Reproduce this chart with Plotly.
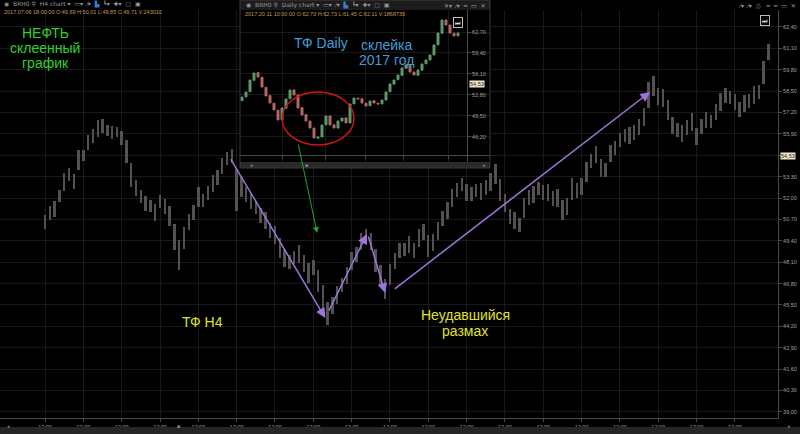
import plotly.graph_objects as go

W, H = 800, 434

# --- H4 chart (main), one bar per index, price mid and bar height ---
h4_mid = [50.54, 51.09, 51.32, 52.12, 52.98, 53.44, 53.02, 54.31, 54.60, 55.39,
          55.77, 56.24, 56.38, 56.10, 55.96, 56.03, 55.65, 54.80, 53.40, 52.61,
          52.10, 51.66, 51.52, 51.13, 51.80, 51.48, 50.91, 49.63, 48.54, 49.57,
          50.54, 51.13, 52.06, 51.86, 52.31, 52.89, 53.24, 53.95, 54.41, 54.56,
          52.49, 52.67, 52.21, 51.82, 51.43, 50.93, 50.64, 50.02, 49.73, 48.97,
          48.32, 48.11, 48.37, 48.58, 48.01, 47.46, 47.78, 46.96, 45.92, 45.01,
          45.46, 46.08, 46.71, 47.28, 48.15, 48.56, 49.37, 49.69, 49.35, 48.23,
          47.26, 46.47, 47.36, 48.17, 48.82, 48.86, 49.18, 48.80, 49.55, 49.94,
          49.08, 49.31, 50.00, 50.77, 51.23, 51.98, 52.49, 52.83, 52.33, 52.25,
          52.47, 52.39, 52.65, 52.98, 53.46, 52.49, 51.68, 50.87, 50.64, 50.36,
          51.40, 52.04, 52.21, 52.59, 52.33, 52.35, 51.96, 51.98, 51.27, 51.48,
          52.55, 52.45, 52.71, 53.58, 54.25, 54.66, 53.85, 53.71, 54.72, 55.04,
          55.53, 55.81, 55.79, 55.99, 56.32, 56.93, 58.27, 58.81, 58.17, 58.06,
          57.35, 56.40, 56.14, 55.92, 56.30, 56.62, 55.73, 56.36, 56.75, 56.65,
          57.23, 57.84, 58.24, 58.10, 57.84, 57.38, 57.76, 57.90, 58.27, 58.45,
          59.66, 60.88]
h4_span = [0.9, 0.8, 1.0, 0.7, 1.1, 0.8, 0.9, 1.2, 0.7, 0.9,
           0.8, 1.0, 0.9, 0.7, 0.8, 0.6, 0.9, 1.4, 1.5, 1.0,
           0.8, 0.9, 0.7, 1.0, 0.8, 0.9, 1.2, 1.6, 1.8, 1.3,
           1.0, 0.9, 1.2, 0.8, 0.9, 1.0, 0.9, 1.0, 0.8, 0.9,
           2.6, 1.2, 0.9, 1.0, 0.8, 0.9, 1.0, 0.9, 1.1, 1.2,
           1.0, 0.9, 0.8, 1.1, 1.0, 1.2, 0.9, 1.3, 1.6, 1.4,
           1.0, 1.1, 0.9, 1.0, 1.1, 0.9, 1.0, 0.8, 1.0, 1.4,
           1.3, 1.2, 1.3, 1.0, 0.9, 0.8, 1.0, 0.9, 1.1, 1.0,
           1.3, 1.0, 1.1, 0.9, 1.0, 1.1, 0.9, 0.8, 1.0, 0.9,
           0.8, 1.0, 0.9, 1.1, 1.2, 1.3, 1.1, 0.9, 1.0, 0.8,
           1.2, 0.9, 1.0, 0.8, 0.9, 1.0, 0.9, 1.1, 1.2, 1.0,
           1.3, 0.9, 1.0, 1.2, 0.9, 1.0, 1.1, 0.9, 1.0, 0.8,
           0.9, 0.8, 1.0, 0.9, 1.0, 1.1, 1.6, 1.2, 1.0, 1.1,
           1.2, 1.0, 0.9, 1.0, 0.9, 1.1, 1.0, 0.9, 1.0, 0.8,
           1.0, 1.1, 0.9, 0.8, 1.0, 0.9, 1.0, 0.9, 1.1, 0.9,
           1.4, 1.0]
h4_time_ticks = [0, 8, 16, 24, 32, 40, 48, 56, 64, 72, 80, 88, 96, 104, 112, 120, 128, 136, 144]
h4_time_labels = ["12:00"] * len(h4_time_ticks)
h4_price_ticks = [39.0, 40.3, 41.6, 42.9, 44.2, 45.5, 46.8, 48.1, 49.4, 50.7,
                  52.0, 53.3, 54.6, 55.9, 57.2, 58.5, 59.8, 61.1, 62.4]
h4_last_price = 54.53

# swing arrows drawn on the H4 chart: (from index, from price) -> (to index, to price)
swing_from_i = [38.6, 59.1, 67.4, 72.7]
swing_from_p = [54.44, 45.07, 49.75, 46.41]
swing_to_i = [58.5, 67.2, 71.0, 126.3]
swing_to_p = [44.71, 49.81, 46.23, 58.45]

# --- Daily chart (inset) ---
d_open = [51.9, 52.5, 53.3, 55.1, 56.3, 55.6, 54.0, 52.7, 51.5, 50.4,
          48.9, 50.7, 52.2, 53.6, 52.8, 50.8, 49.7, 48.7, 47.6, 46.0,
          46.2, 48.1, 49.5, 48.1, 47.6, 48.7, 49.2, 48.4, 51.4, 52.3,
          52.2, 51.5, 51.1, 51.9, 51.5, 51.4, 52.0, 53.3, 54.5, 55.2,
          55.9, 57.0, 57.5, 56.4, 55.9, 56.7, 57.7, 58.3, 59.1, 60.7,
          62.5, 64.6, 63.8, 62.5, 62.1]
d_close = [52.48, 53.27, 55.15, 56.25, 55.63, 54.05, 52.64, 51.54, 50.44, 48.87,
           50.75, 52.17, 53.58, 52.80, 50.75, 49.65, 48.71, 47.61, 46.04, 46.19,
           48.08, 49.50, 48.08, 47.61, 48.71, 49.18, 48.39, 51.38, 52.32, 52.17,
           51.54, 51.07, 51.85, 51.54, 51.38, 52.01, 53.27, 54.53, 55.15, 55.94,
           57.04, 57.51, 56.41, 55.94, 56.73, 57.67, 58.30, 59.08, 60.66, 62.54,
           64.59, 63.80, 62.54, 62.07, 62.54]
d_date_ticks = [10, 20.75, 30.75, 40.25, 51.5]
d_date_labels = ["15 май", "29 июн", "14 авг", "27 сен", "13 ноя"]
d_price_ticks = [46.2, 49.5, 52.8, 56.1, 59.4, 62.7]
d_last_price = 54.53


def px(x):
    return x / W


def py(y):
    return 1 - y / H


def fmt(v):
    return f"{v:.2f}".replace(".", ",")


GRID = "#191919"
AXIS = "#4a4a4a"
TICKFONT = dict(family="Liberation Sans", size=5.5, color="#a0a0a0")

fig = go.Figure()

# H4 bars: thin grey bars from low to high
fig.add_trace(go.Bar(
    x=list(range(len(h4_mid))),
    y=h4_span,
    base=[m - s / 2 for m, s in zip(h4_mid, h4_span)],
    width=0.5,
    marker=dict(color="#525252", line=dict(width=0)),
    hoverinfo="skip",
))

# Daily candles in the inset
fig.add_trace(go.Candlestick(
    x=list(range(len(d_open))),
    open=d_open,
    close=d_close,
    high=[max(o, c) for o, c in zip(d_open, d_close)],
    low=[min(o, c) for o, c in zip(d_open, d_close)],
    xaxis="x2",
    yaxis="y2",
    whiskerwidth=0,
    increasing=dict(line=dict(color="#5f9a6a", width=1), fillcolor="#5f9a6a"),
    decreasing=dict(line=dict(color="#b46868", width=1), fillcolor="#b46868"),
    hoverinfo="skip",
))

annotations = []

# swing arrows
for fi, fp, ti, tp in zip(swing_from_i, swing_from_p, swing_to_i, swing_to_p):
    annotations.append(dict(
        x=ti, y=tp, ax=fi, ay=fp, xref="x", yref="y", axref="x", ayref="y",
        showarrow=True, arrowhead=2, arrowsize=1.3, arrowwidth=1.5,
        arrowcolor="#9d74d9", text="",
    ))

# green pointer from the daily circle down to the H4 low
annotations.append(dict(
    x=56.8, y=49.88, ax=52.8, ay=55.35, xref="x", yref="y", axref="x", ayref="y",
    showarrow=True, arrowhead=2, arrowsize=1.2, arrowwidth=1,
    arrowcolor="#25a525", text="",
))

big = dict(family="Liberation Sans", size=14)
labels = [
    ("НЕФТЬ", 45, 33, "#2ed12e"),
    ("склеенный", 45, 48, "#2ed12e"),
    ("график", 45, 63, "#2ed12e"),
    ("ТФ H4", 203, 322, "#e2e22a"),
    ("Неудавшийся", 465, 315, "#e2e22a"),
    ("размах", 465, 331, "#e2e22a"),
    ("ТФ Daily", 321, 43, "#3d9ed6"),
    ("склейка", 386, 45, "#3d9ed6"),
    ("2017 год", 386, 60, "#3d9ed6"),
]
for t, x, y, c in labels:
    annotations.append(dict(
        x=px(x), y=py(y), xref="paper", yref="paper", text=t, showarrow=False,
        font=dict(color=c, **big), xanchor="center", yanchor="middle",
    ))

small = dict(family="Liberation Sans", size=5.5)
# info lines
annotations.append(dict(
    x=px(2), y=py(12), xref="paper", yref="paper", showarrow=False,
    text="2017.07.06 18:00:00 O:49,69 H:50,01 L:49,85 C:49,71 V:243010",
    font=dict(color="#c39a52", **small), xanchor="left", yanchor="middle",
))
annotations.append(dict(
    x=px(243), y=py(14), xref="paper", yref="paper", showarrow=False,
    text="2017.20.11 10:00:00 O:62,73 H:62,73 L:61,45 C:62,11 V:1868739",
    font=dict(color="#c39a52", **small), xanchor="left", yanchor="middle",
))

# toolbars
tool = dict(family="DejaVu Sans", size=6, color="#9a9a9a")
annotations.append(dict(
    x=px(2), y=py(4), xref="paper", yref="paper", showarrow=False,
    text="◉  BRH0 ⚲  H4 chart ▾  ▭▾  ⁄▾  <span style='color:#3c7ad0'>▙</span>  ┗▾  ✚▾  ▢  ▣",
    font=tool, xanchor="left", yanchor="middle",
))
annotations.append(dict(
    x=px(244), y=py(5), xref="paper", yref="paper", showarrow=False,
    text="◉  BRH0 ⚲  Daily chart ▾  ▭▾  ⁄▾  <span style='color:#3c7ad0'>▙</span>  ┗▾  ✚▾  ▢  ▣",
    font=tool, xanchor="left", yanchor="middle",
))
annotations.append(dict(
    x=px(488), y=py(5), xref="paper", yref="paper", showarrow=False,
    text="✕▾  ⁄▾  ━  ▭  ✕",
    font=tool, xanchor="right", yanchor="middle",
))
annotations.append(dict(
    x=px(798), y=py(5), xref="paper", yref="paper", showarrow=False,
    text="⁄▾  ⁄▾  ⎙   ━  ━  ▭  ✕",
    font=tool, xanchor="right", yanchor="middle",
))

# "end of chart" buttons
for bx, by in [(770, 15), (458, 17)]:
    annotations.append(dict(
        x=px(bx), y=py(by), xref="paper", yref="paper", showarrow=False,
        text="<b>⏭</b>", font=dict(family="DejaVu Sans", size=6, color="#dddddd"),
        bordercolor="#bbbbbb", borderwidth=1, borderpad=1, bgcolor="#000000",
    ))

# last price markers
annotations.append(dict(
    x=px(780), y=h4_last_price, xref="paper", yref="y", showarrow=False,
    text=fmt(h4_last_price), font=dict(color="#202020", **small),
    bgcolor="#efe6cc", borderpad=0, xanchor="left", yanchor="middle",
))
annotations.append(dict(
    x=px(469), y=d_last_price, xref="paper", yref="y2", showarrow=False,
    text=fmt(d_last_price), font=dict(color="#202020", **small),
    bgcolor="#efe6cc", borderpad=0, xanchor="left", yanchor="middle",
))

# scrollbar arrows
for t, x, y in [("◂", 5, 431), ("▪", 175, 431), ("▸", 793, 431), ("◂", 248, 165), ("▪", 306, 165), ("▸", 484, 165)]:
    annotations.append(dict(
        x=px(x), y=py(y), xref="paper", yref="paper", showarrow=False, text=t,
        font=dict(family="DejaVu Sans", size=5, color="#8a8a8a"),
    ))

shapes = [
    # main scrollbar
    dict(type="rect", xref="paper", yref="paper", x0=0, x1=1, y0=py(434), y1=py(427),
         fillcolor="#262626", line=dict(width=0), layer="above"),
    # inset toolbar
    dict(type="rect", xref="paper", yref="paper", x0=px(240), x1=px(490), y0=py(10), y1=py(0),
         fillcolor="#1c1c1c", line=dict(width=0), layer="above"),
    # inset scrollbar
    dict(type="rect", xref="paper", yref="paper", x0=px(240), x1=px(490), y0=py(168), y1=py(162),
         fillcolor="#2a2a2a", line=dict(width=0), layer="above"),
    # inset frame
    dict(type="rect", xref="paper", yref="paper", x0=px(240), x1=px(490), y0=py(168), y1=py(0),
         fillcolor="rgba(0,0,0,0)", line=dict(color="#3a3a3a", width=1), layer="above"),
    # red circle on the daily chart
    dict(type="circle", xref="x2", yref="y2", x0=10, x1=28, y0=44.94, y1=53.27,
         line=dict(color="#d41414", width=1.5), layer="above"),
]

axis_common = dict(
    showgrid=True, gridcolor=GRID, gridwidth=1, zeroline=False,
    showline=True, linecolor=AXIS, linewidth=1,
    ticks="outside", ticklen=3, tickcolor=AXIS,
    tickfont=TICKFONT, automargin=False, fixedrange=True,
)

# the last-price marker sits on top of the 54,60 level, so leave that label blank
h4_price_text = ["" if abs(v - h4_last_price) < 0.2 else fmt(v) for v in h4_price_ticks]

fig.update_layout(
    width=W, height=H,
    margin=dict(l=0, r=0, t=0, b=0),
    paper_bgcolor="#000000",
    plot_bgcolor="#000000",
    showlegend=False,
    hovermode=False,
    bargap=0,
    xaxis=dict(domain=[0, px(778)], range=[-9.4, 153.0],
               tickvals=h4_time_ticks, ticktext=h4_time_labels, **axis_common),
    yaxis=dict(domain=[py(418), py(10)], range=[38.63, 63.43], side="right",
               tickvals=h4_price_ticks, ticktext=h4_price_text, **axis_common),
    xaxis2=dict(domain=[px(240), px(490)], range=[-0.5, 62.0], anchor="free", position=py(155),
                tickvals=d_date_ticks, ticktext=d_date_labels,
                rangeslider=dict(visible=False), **axis_common),
    yaxis2=dict(domain=[py(162), py(10)], range=[42.26, 66.16], anchor="free", position=px(467),
                side="right", tickvals=d_price_ticks, ticktext=[fmt(v) for v in d_price_ticks],
                **axis_common),
    annotations=annotations,
    shapes=shapes,
)

# page body has a default 8px margin; drop it so the chart sits at the window corner
fig.write_html("out.html", config={"displayModeBar": False},
               post_script="document.body.style.margin='0';")
